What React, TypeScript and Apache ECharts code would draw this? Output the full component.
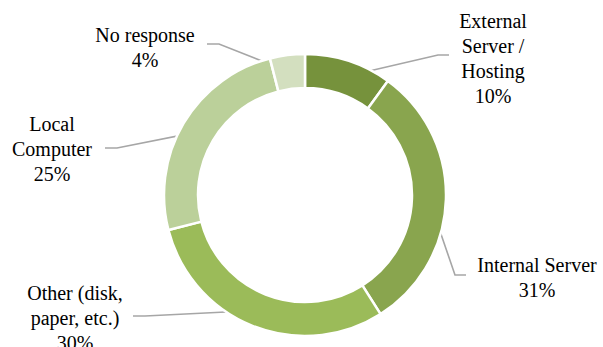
import React, { useEffect, useRef } from "react";
import * as echarts from "echarts";

const categories = [
  "External\nServer /\nHosting",
  "Internal Server",
  "Other (disk,\npaper, etc.)",
  "Local\nComputer",
  "No response",
];
const values = [10, 31, 30, 25, 4];
const colors = ["#76923C", "#89A54E", "#9BBB59", "#BBD09A", "#D3DFBF"];

// label layout (positions only)
const CX = 305;
const CY = 195;
const R_IN = 107;
const R_OUT = 141;
const labelPos = [
  [493, 58],
  [537, 277],
  [75, 318],
  [52, 149],
  [145, 47],
];
const elbows = [
  [[438, 55], [449, 55]],
  [[455, 275], [466, 275]],
  [[145, 316], [133, 316]],
  [[117, 148], [105, 148]],
  [[219, 44], [207, 44]],
];
const FONT = "Liberation Serif";

export default function App() {
  const ref = useRef<HTMLDivElement>(null);
  useEffect(() => {
    if (!ref.current) return;
    const chart = echarts.init(ref.current, null, { renderer: "svg" });
    const total = values.reduce((a, b) => a + b, 0);
    const anchors: number[][] = [];
    let acc = 0;
    values.forEach((v) => {
      const mid = ((acc + v / 2) / total) * Math.PI * 2;
      acc += v;
      const r = (R_IN + R_OUT) / 2;
      anchors.push([CX + r * Math.sin(mid), CY - r * Math.cos(mid)]);
    });
    chart.setOption({
      animation: false,
      backgroundColor: "#ffffff",
      series: [
        {
          type: "pie",
          center: [CX, CY],
          radius: [R_IN, R_OUT],
          startAngle: 90,
          clockwise: true,
          avoidLabelOverlap: false,
          percentPrecision: 0,
          itemStyle: { borderColor: "#ffffff", borderWidth: 2.5 },
          emphasis: { disabled: true },
          label: {
            show: true,
            position: "outside",
            formatter: "{b}\n{d}%",
            fontFamily: FONT,
            fontSize: 20,
            lineHeight: 25,
            color: "#000000",
            align: "center",
          },
          labelLine: {
            show: true,
            lineStyle: { color: "#A6A6A6", width: 1.6 },
          },
          labelLayout: (params: any) => {
            const i = params.dataIndex;
            return {
              x: labelPos[i][0],
              y: labelPos[i][1],
              align: "center",
              verticalAlign: "middle",
              labelLinePoints: [anchors[i], elbows[i][0], elbows[i][1]],
            };
          },
          data: categories.map((name, i) => ({
            name,
            value: values[i],
            itemStyle: { color: colors[i] },
          })),
        },
      ],
    });
    return () => chart.dispose();
  }, []);
  return (
    <div
      ref={ref}
      style={{ position: "absolute", left: 0, top: 0, width: 603, height: 347 }}
    />
  );
}
